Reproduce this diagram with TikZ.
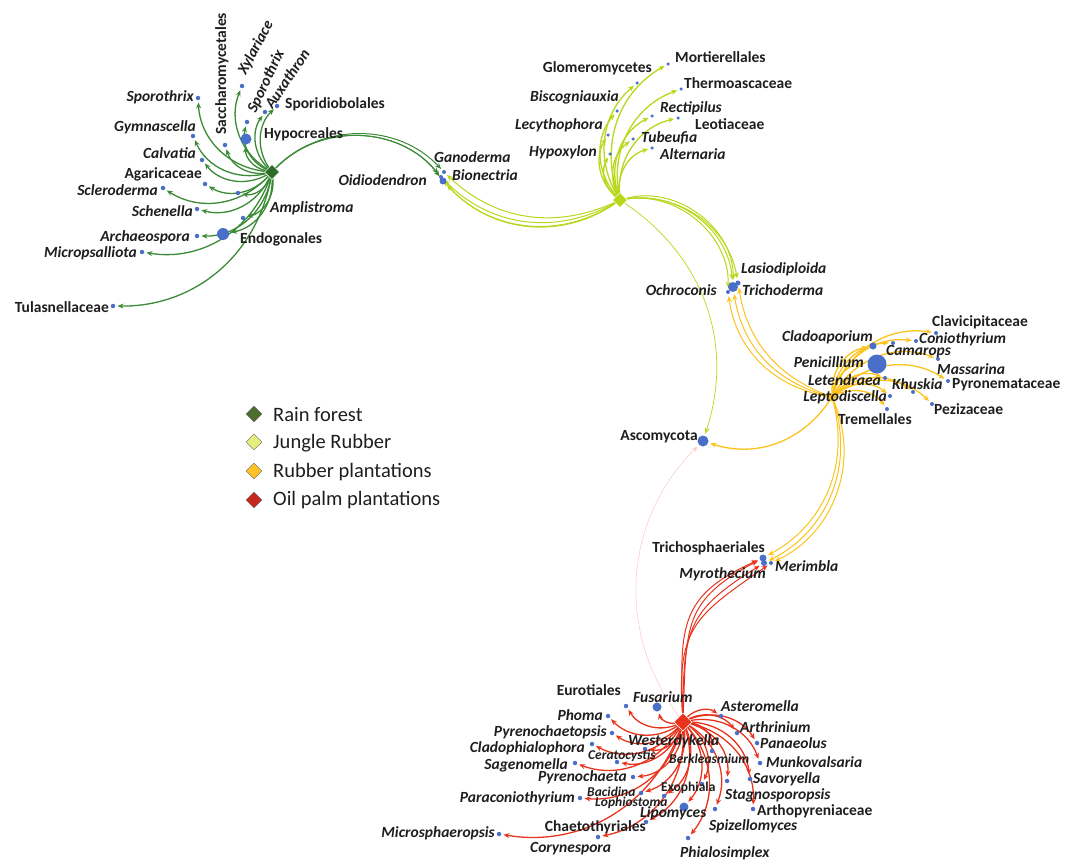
\documentclass[tikz,border=0pt]{standalone}
\usepackage{fontspec}
\setmainfont{Carlito}
\usetikzlibrary{arrows.meta,shapes.geometric}
\definecolor{dotblue}{HTML}{4A6FC9}
\definecolor{cRF}{HTML}{3B8A35}
\definecolor{cRFhub}{HTML}{2E6A2A}
\definecolor{cJR}{HTML}{B8D71A}
\definecolor{cRP}{HTML}{FBC31C}
\definecolor{cOP}{HTML}{E8341E}
\definecolor{cOPfaint}{HTML}{F9CFC8}
\definecolor{txt}{HTML}{1E1E1E}
\definecolor{lgRF}{HTML}{4E6E2E}
\definecolor{lgJR}{HTML}{E7EF7C}
\definecolor{lgRP}{HTML}{FFC224}
\definecolor{lgOP}{HTML}{C6281E}
\pgfdeclarelayer{bg}
\pgfsetlayers{bg,main}
\tikzset{
 dot/.style={circle, fill=dotblue, inner sep=0pt, minimum size=4.5pt},
 lab/.style={inner sep=0pt, text=txt, font=\fontsize{15.5}{17}\selectfont\bfseries},
 ilab/.style={lab, font=\fontsize{15.5}{17}\selectfont\bfseries\itshape},
 slab/.style={lab, font=\fontsize{13.5}{15}\selectfont\bfseries},
 silab/.style={lab, font=\fontsize{13.5}{15}\selectfont\bfseries\itshape},
 hub/.style={diamond, inner sep=0pt, minimum size=15pt, draw=white, line width=0.5pt},
 lgd/.style={diamond, inner sep=0pt, minimum size=16pt, draw=black!60, line width=0.4pt},
 lgtext/.style={inner sep=0pt, anchor=west, text=txt, font=\fontsize{20.5}{22}\selectfont},
 tip/.style={-{Stealth[length=6pt,width=5pt]}},
 erf/.style={tip, draw=cRF, line width=1.3pt, shorten >=2pt, bend left=40},
 ejr/.style={tip, draw=cJR, line width=1.3pt, shorten >=2pt, bend left=40},
 erp/.style={tip, draw=cRP, line width=1.3pt, shorten >=2pt, bend left=40},
 eop/.style={tip, draw=cOP, line width=1.3pt, shorten >=2pt, bend left=40},
}
\begin{document}
\begin{tikzpicture}[x=1pt,y=1pt]
\useasboundingbox (0,0) rectangle (1075,-860);

% ---------- hubs ----------
\node[hub, fill=cRFhub] (RF) at (272,-172) {};
\node[hub, fill=cJR] (JR) at (620,-200) {};
\node[hub, fill=cRP, minimum size=10pt, draw=none] (RP) at (832,-397) {};
\node[hub, fill=cOP, minimum size=18pt] (OP) at (683,-722) {};

% ---------- Rain forest taxa ----------
\node[dot] (sporo1) at (198,-98) {};
\node[dot] (sacch) at (225,-145) {};
\node[dot] (xylar) at (242,-86) {};
\node[dot] (sporo2) at (247,-122) {};
\node[dot] (auxa) at (265,-112) {};
\node[dot] (sporid) at (277,-106) {};
\node[dot, minimum size=11pt] (hypoc) at (246,-139) {};
\node[dot] (gymn) at (193,-136) {};
\node[dot] (calv) at (202,-160) {};
\node[dot] (agar) at (205,-184) {};
\node[dot] (rfx) at (238,-193) {};
\node[dot] (scler) at (163,-188) {};
\node[dot] (schen) at (197,-209) {};
\node[dot] (ampl) at (243,-218) {};
\node[dot, minimum size=12pt] (endog) at (223,-234) {};
\node[dot] (archae) at (197,-236) {};
\node[dot] (micro) at (142,-252) {};
\node[dot] (tulas) at (113,-306) {};

\node[ilab, anchor=east] (Lsporo1) at (194,-97) {Sporothrix};
\node[lab, anchor=west, rotate=90] (Lsacch) at (222,-135) {Saccharomycetales};
\node[ilab, anchor=west, rotate=62] (Lxylar) at (242,-74) {Xylariace};
\node[ilab, anchor=west, rotate=65] (Lsporo2) at (252,-112) {Sporothrix};
\node[ilab, anchor=west, rotate=56] (Lauxa) at (268,-107) {Auxathron};
\node[lab, anchor=west] (Lsporid) at (285,-104) {Sporidiobolales};
\node[lab, anchor=west] (Lhypoc) at (264,-134) {Hypocreales};
\node[ilab, anchor=east] (Lgymn) at (196,-127) {Gymnascella};
\node[ilab, anchor=east] (Lcalv) at (196,-153) {Calvatia};
\node[lab, anchor=east] (Lagar) at (202,-174) {Agaricaceae};
\node[ilab, anchor=east] (Lscler) at (158,-190) {Scleroderma};
\node[ilab, anchor=east] (Lschen) at (193,-211) {Schenella};
\node[ilab, anchor=west] (Lampl) at (270,-208) {Amplistroma};
\node[lab, anchor=west] (Lendog) at (240,-239) {Endogonales};
\node[ilab, anchor=east] (Larchae) at (190,-237) {Archaeospora};
\node[ilab, anchor=east] (Lmicro) at (137,-253) {Micropsalliota};
\node[lab, anchor=east] (Ltulas) at (109,-307) {Tulasnellaceae};

% ---------- Ganoderma group ----------
\node[dot, minimum size=4pt] (gano) at (444,-172) {};
\node[dot, minimum size=4pt] (bion) at (441,-177) {};
\node[dot, minimum size=7pt] (oidio) at (443,-181) {};
\node[ilab, anchor=west] (Lgano) at (434,-157) {Ganoderma};
\node[ilab, anchor=west] (Lbion) at (452,-175) {Bionectria};
\node[ilab, anchor=east] (Loidio) at (427,-180) {Oidiodendron};

% ---------- Jungle rubber taxa ----------
\node[dot, minimum size=3.5pt] (glom) at (637,-83) {};
\node[dot, minimum size=3.5pt] (mort) at (668,-64) {};
\node[dot, minimum size=3.5pt] (therm) at (681,-89) {};
\node[dot, minimum size=3.5pt] (bisc) at (617,-111) {};
\node[dot, minimum size=3.5pt] (lecy) at (608,-135) {};
\node[dot, minimum size=3.5pt] (hypox) at (610,-154) {};
\node[dot, minimum size=3.5pt] (recti) at (652,-116) {};
\node[dot, minimum size=3.5pt] (leot) at (678,-118) {};
\node[dot, minimum size=3.5pt] (tubeu) at (633,-139) {};
\node[dot, minimum size=3.5pt] (altern) at (652,-148) {};
\node[lab, anchor=east] (Lglom) at (652,-68) {Glomeromycetes};
\node[lab, anchor=west] (Lmort) at (675,-57) {Mortierellales};
\node[lab, anchor=west] (Ltherm) at (684,-83) {Thermoascaceae};
\node[ilab, anchor=east] (Lbisc) at (619,-97) {Biscogniauxia};
\node[ilab, anchor=east] (Llecy) at (603,-125) {Lecythophora};
\node[ilab, anchor=east] (Lhypox) at (597,-152) {Hypoxylon};
\node[ilab, anchor=west] (Lrecti) at (660,-108) {Rectipilus};
\node[lab, anchor=west] (Lleot) at (695,-124) {Leotiaceae};
\node[ilab, anchor=west] (Ltubeu) at (641,-138) {Tubeufia};
\node[ilab, anchor=west] (Laltern) at (660,-154) {Alternaria};

% ---------- Lasiodiploida group ----------
\node[dot, minimum size=5pt] (lasio) at (738,-283) {};
\node[dot, minimum size=10pt] (trich) at (733,-287) {};
\node[dot, minimum size=4pt] (ochro) at (728,-292) {};
\node[ilab, anchor=west] (Llasio) at (741,-269) {Lasiodiploida};
\node[ilab, anchor=west] (Ltrich) at (742,-290) {Trichoderma};
\node[ilab, anchor=east] (Lochro) at (717,-290) {Ochroconis};

% ---------- Rubber plantation taxa ----------
\node[dot, minimum size=7pt] (clado) at (873,-346) {};
\node[dot, minimum size=19pt] (penic) at (877,-364) {};
\node[dot, minimum size=4pt] (camar) at (893,-343) {};
\node[dot, minimum size=4pt] (conio) at (916,-341) {};
\node[dot, minimum size=4pt] (clavi) at (936,-333) {};
\node[dot, minimum size=4pt] (massa) at (938,-359) {};
\node[dot, minimum size=4pt] (pyron) at (948,-381) {};
\node[dot, minimum size=4pt] (khusk) at (913,-392) {};
\node[dot, minimum size=4pt] (leten) at (885,-378) {};
\node[dot, minimum size=4pt] (lepto) at (890,-396) {};
\node[dot, minimum size=4pt] (pezi) at (932,-404) {};
\node[dot, minimum size=4pt] (treme) at (887,-409) {};
\node[lab, anchor=west] (Lclavi) at (932,-322) {Clavicipitaceae};
\node[ilab, anchor=west] (Lconio) at (919,-339) {Coniothyrium};
\node[ilab, anchor=east] (Lclado) at (873,-337) {Cladoaporium};
\node[ilab, anchor=west] (Lcamar) at (886,-352) {Camarops};
\node[ilab, anchor=east] (Lpenic) at (864,-362) {Penicillium};
\node[ilab, anchor=west] (Lmassa) at (937,-369) {Massarina};
\node[ilab, anchor=east] (Lleten) at (881,-380) {Letendraea};
\node[ilab, anchor=west] (Lkhusk) at (892,-384) {Khuskia};
\node[lab, anchor=west] (Lpyron) at (952,-385) {Pyronemataceae};
\node[ilab, anchor=east] (Llepto) at (887,-397) {Leptodiscella};
\node[lab, anchor=west] (Lpezi) at (934,-409) {Pezizaceae};
\node[lab, anchor=west] (Ltreme) at (838,-419) {Tremellales};

% ---------- middle taxa ----------
\node[dot, minimum size=11pt] (asco) at (703,-441) {};
\node[lab, anchor=east] (Lasco) at (698,-437) {Ascomycota};
\node[dot, minimum size=7pt] (trsph) at (763,-558) {};
\node[dot, minimum size=6pt] (myro) at (764,-563) {};
\node[dot, minimum size=4pt] (merim) at (771,-563) {};
\node[lab, anchor=east] (Ltrsph) at (765,-548) {Trichosphaeriales};
\node[ilab, anchor=west] (Lmerim) at (775,-566) {Merimbla};
\node[ilab, anchor=east] (Lmyro) at (766,-574) {Myrothecium};

% ---------- Oil palm taxa ----------
\node[dot] (euro) at (626,-706) {};
\node[dot, minimum size=9pt] (fusar) at (657,-707) {};
\node[dot] (phoma) at (608,-716) {};
\node[dot] (pyrto) at (612,-733) {};
\node[dot] (claph) at (592,-744) {};
\node[dot] (wester) at (645,-749) {};
\node[dot] (cerat) at (617,-762) {};
\node[dot] (sagen) at (575,-763) {};
\node[dot] (pyrch) at (633,-777) {};
\node[dot] (berk) at (712,-751) {};
\node[dot] (bacid) at (641,-793) {};
\node[dot] (paraco) at (580,-798) {};
\node[dot] (lophi) at (664,-796) {};
\node[dot] (exoph) at (702,-784) {};
\node[dot, minimum size=9pt] (lipom) at (684,-807) {};
\node[dot] (chaet) at (646,-822) {};
\node[dot] (coryn) at (598,-837) {};
\node[dot] (micsph) at (499,-834) {};
\node[dot] (aster) at (721,-716) {};
\node[dot] (arthr) at (737,-733) {};
\node[dot] (panae) at (757,-743) {};
\node[dot] (munko) at (760,-763) {};
\node[dot] (savor) at (750,-779) {};
\node[dot] (stagn) at (727,-781) {};
\node[dot] (arthp) at (753,-809) {};
\node[dot] (spizel) at (715,-809) {};
\node[dot] (phial) at (688,-838) {};
\node[lab, anchor=east] (Leuro) at (621,-690) {Eurotiales};
\node[ilab, anchor=west] (Lfusar) at (633,-697) {Fusarium};
\node[ilab, anchor=east] (Lphoma) at (603,-715) {Phoma};
\node[ilab, anchor=east] (Lpyrto) at (607,-732) {Pyrenochaetopsis};
\node[ilab, anchor=east] (Lclaph) at (585,-748) {Cladophialophora};
\node[ilab, anchor=west] (Lwester) at (628,-741) {Westerdykella};
\node[silab, anchor=west] (Lcerat) at (588,-756) {Ceratocystis};
\node[ilab, anchor=east] (Lsagen) at (568,-765) {Sagenomella};
\node[ilab, anchor=east] (Lpyrch) at (627,-777) {Pyrenochaeta};
\node[silab, anchor=west] (Lberk) at (669,-759) {Berkleasmium};
\node[silab, anchor=west] (Lbacid) at (587,-792) {Bacidina};
\node[silab, anchor=west] (Llophi) at (595,-803) {Lophiostoma};
\node[ilab, anchor=east] (Lparaco) at (575,-798) {Paraconiothyrium};
\node[slab, anchor=west] (Lexoph) at (661,-788) {Exophiala};
\node[ilab, anchor=west] (Llipom) at (640,-813) {Lipomyces};
\node[lab, anchor=east] (Lchaet) at (646,-827) {Chaetothyriales};
\node[ilab, anchor=west] (Lcoryn) at (530,-849) {Corynespora};
\node[ilab, anchor=east] (Lmicsph) at (495,-833) {Microsphaeropsis};
\node[ilab, anchor=west] (Laster) at (721,-706) {Asteromella};
\node[ilab, anchor=west] (Larthr) at (740,-727) {Arthrinium};
\node[ilab, anchor=west] (Lpanae) at (760,-743) {Panaeolus};
\node[ilab, anchor=west] (Lmunko) at (766,-762) {Munkovalsaria};
\node[ilab, anchor=west] (Lsavor) at (753,-779) {Savoryella};
\node[ilab, anchor=west] (Lstagn) at (725,-795) {Stagnosporopsis};
\node[lab, anchor=west] (Larthp) at (757,-811) {Arthopyreniaceae};
\node[ilab, anchor=west] (Lspizel) at (709,-826) {Spizellomyces};
\node[ilab, anchor=west] (Lphial) at (680,-853) {Phialosimplex};

% ---------- legend ----------
\node[lgd, fill=lgRF] (k1) at (254,-414) {};
\node[lgd, fill=lgJR] (k2) at (254,-442) {};
\node[lgd, fill=lgRP] (k3) at (254,-471) {};
\node[lgd, fill=lgOP] (k4) at (254,-500) {};
\node[lgtext] (kt1) at (273,-415) {Rain forest};
\node[lgtext] (kt2) at (273,-443) {Jungle Rubber};
\node[lgtext] (kt3) at (273,-472) {Rubber plantations};
\node[lgtext] (kt4) at (273,-500) {Oil palm plantations};

% ---------- edges ----------
\begin{pgfonlayer}{bg}
\foreach \t in {sporo1,sacch,xylar,sporo2,auxa,sporid,hypoc,gymn,calv,agar,rfx,scler,schen,ampl,endog,archae,micro,tulas}
  \draw[erf] (RF) to (\t);
\draw[erf, line width=1pt, bend left=46] (RF) to (gano);
\draw[erf, line width=1pt, bend left=48] (RF) to (bion);
\draw[erf, line width=1pt, bend left=50] (RF) to (oidio);

\foreach \t in {glom,mort,therm,bisc,lecy,hypox,recti,leot,tubeu,altern}
  \draw[ejr] (JR) to (\t);
\draw[ejr, line width=1pt, bend left=34] (JR) to (gano);
\draw[ejr, line width=1pt, bend left=37] (JR) to (bion);
\draw[ejr, line width=1pt, bend left=40] (JR) to (oidio);
\draw[ejr, line width=1pt, bend left=43] (JR) to (bion);
\draw[ejr, line width=1pt, bend left=44] (JR) to (lasio);
\draw[ejr, line width=1pt, bend left=47] (JR) to (trich);
\draw[ejr, line width=1pt, bend left=50] (JR) to (ochro);
\draw[ejr, line width=1pt, bend left=53] (JR) to (trich);
\draw[ejr, line width=0.7pt, bend left=37] (JR) to (asco);

\foreach \t in {clado,penic,camar,conio,clavi,massa,pyron,khusk,leten,lepto,pezi,treme}
  \draw[erp] (RP) to (\t);
\draw[erp, line width=1pt, bend left=30] (RP) to (lasio);
\draw[erp, line width=1pt, bend left=33] (RP) to (trich);
\draw[erp, line width=1pt, bend left=36] (RP) to (ochro);
\draw[erp, line width=1.3pt, bend left=37] (RP) to (asco);
\draw[erp, line width=1pt, bend left=38] (RP) to (trsph);
\draw[erp, line width=1pt, bend left=41] (RP) to (myro);
\draw[erp, line width=1pt, bend left=44] (RP) to (merim);

\foreach \t in {euro,fusar,phoma,pyrto,claph,wester,cerat,sagen,pyrch,berk,bacid,paraco,lophi,exoph,lipom,chaet,coryn,micsph,aster,arthr,panae,munko,savor,stagn,arthp,spizel,phial}
  \draw[eop] (OP) to (\t);
\draw[eop, line width=1pt, relative=false, out=88, in=208, looseness=1.3] (OP) to (trsph);
\draw[eop, line width=1pt, relative=false, out=90, in=212, looseness=1.3] (OP) to (myro);
\draw[eop, line width=1pt, relative=false, out=92, in=204, looseness=1.3] (OP) to (trsph);
\draw[eop, line width=1pt, relative=false, out=94, in=215, looseness=1.3] (OP) to (merim);
\draw[eop, draw=cOPfaint, line width=0.6pt, bend left=41] (OP) to (asco);
\end{pgfonlayer}
\end{tikzpicture}
\end{document}
